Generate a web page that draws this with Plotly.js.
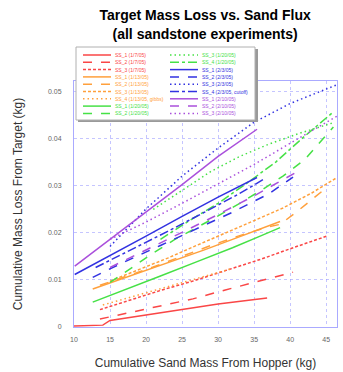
<!DOCTYPE html>
<html><head><meta charset="utf-8">
<script src="https://cdn.plot.ly/plotly-3.0.1.min.js"></script>
<style>html,body{margin:0;padding:0;background:#fff}#chart{width:343px;height:372px}</style>
</head><body><div id="chart"></div>
<script>
// ---- data ----
const seriesNames = [
  "SS_1 (1/7/05)", "SS_2 (1/7/05)", "SS_3 (1/7/05)",
  "SS_1 (1/13/05)", "SS_2 (1/13/05)", "SS_3 (1/13/05)", "SS_4 (1/13/05, gibbs)",
  "SS_1 (1/20/05)", "SS_2 (1/20/05)",
  "SS_3 (1/20/05)", "SS_4 (1/20/05)",
  "SS_1 (2/3/05)", "SS_2 (2/3/05)", "SS_3 (2/3/05)", "SS_4 (2/3/05, cutoff)",
  "SS_1 (2/10/05)", "SS_2 (2/10/05)", "SS_3 (2/10/05)"
];
const redSolidX = [10, 14, 15, 20, 25, 30, 36.8];
const redSolidY = [0, 0.0002, 0.0012, 0.0024, 0.0035, 0.0047, 0.006];
const redDashX = [13.6, 18, 22, 26.5, 31, 35.5, 40.4];
const redDashY = [0.0015, 0.003, 0.0044, 0.0058, 0.0077, 0.0095, 0.0115];
const redDotX = [13.6, 18, 22, 26.5, 31, 36, 40, 45.1];
const redDotY = [0.0035, 0.0057, 0.0076, 0.0096, 0.0118, 0.0143, 0.0165, 0.0192];
const orangeSolidX = [12.6, 16, 20, 24, 28, 32, 36, 38.6];
const orangeSolidY = [0.0079, 0.0097, 0.0118, 0.014, 0.0162, 0.0185, 0.0207, 0.0223];
const orangeDashX = [13.6, 17, 21, 25, 29, 33, 37, 38.6, 41, 45.1];
const orangeDashY = [0.0087, 0.0105, 0.0126, 0.0149, 0.0172, 0.0193, 0.0212, 0.0217, 0.0245, 0.0296];
const orangeDotX = [15, 19, 23, 27, 31, 35, 39, 43, 46.5];
const orangeDotY = [0.0096, 0.012, 0.0145, 0.0172, 0.0198, 0.0225, 0.0252, 0.0284, 0.0317];
const orangeSparseX = [14, 17, 20, 23, 26, 29, 32];
const orangeSparseY = [0.0045, 0.0058, 0.0071, 0.0084, 0.0097, 0.011, 0.0123];
const greenSolidX = [12.6, 17, 22, 27, 32, 36, 38.6];
const greenSolidY = [0.0051, 0.0078, 0.0107, 0.0137, 0.0167, 0.0193, 0.021];
const greenDashX = [15, 18, 21, 24, 27, 30, 33, 36, 39, 42, 46];
const greenDashY = [0.0093, 0.0125, 0.0156, 0.0185, 0.021, 0.0235, 0.0262, 0.029, 0.032, 0.0355, 0.0425];
const greenDotX = [21, 25, 29, 33, 37, 41, 46];
const greenDotY = [0.0249, 0.029, 0.033, 0.0362, 0.0388, 0.041, 0.0434];
const greenDashDotX = [22, 26, 30, 34, 38, 42, 46];
const greenDashDotY = [0.0185, 0.0225, 0.0262, 0.0305, 0.035, 0.0405, 0.0457];
const blueSolidX = [10.1, 15, 20, 25, 30, 35.4];
const blueSolidY = [0.011, 0.015, 0.0192, 0.0234, 0.0275, 0.0317];
const blueDashX = [12.6, 17, 22, 27, 32, 37, 40.4];
const blueDashY = [0.0104, 0.0137, 0.0172, 0.0207, 0.0243, 0.0282, 0.0318];
const blueDotX = [15, 20, 25, 30, 35, 40, 46.5];
const blueDotY = [0.017, 0.025, 0.032, 0.038, 0.0435, 0.0475, 0.0515];
const blueDashDotX = [13, 18, 23, 28, 33, 36.5];
const blueDashDotY = [0.0125, 0.0163, 0.0202, 0.0242, 0.0283, 0.0315];
const purpleSolidX = [10.1, 15, 20, 25, 30, 35.4];
const purpleSolidY = [0.0128, 0.0185, 0.0242, 0.0302, 0.0362, 0.042];
const purpleDashX = [15, 20, 25, 30, 35, 41.4];
const purpleDashY = [0.0125, 0.0162, 0.02, 0.0238, 0.0278, 0.0333];
const purpleDotX = [15, 20, 25, 30, 35, 40, 46.5];
const purpleDotY = [0.0185, 0.0222, 0.0262, 0.0303, 0.0345, 0.039, 0.0448];

const xs = [redSolidX, redDashX, redDotX, orangeSolidX, orangeDashX, orangeDotX, orangeSparseX, greenSolidX, greenDashX,
            greenDotX, greenDashDotX, blueSolidX, blueDashX, blueDotX, blueDashDotX, purpleSolidX, purpleDashX, purpleDotX];
const ys = [redSolidY, redDashY, redDotY, orangeSolidY, orangeDashY, orangeDotY, orangeSparseY, greenSolidY, greenDashY,
            greenDotY, greenDashDotY, blueSolidY, blueDashY, blueDotY, blueDashDotY, purpleSolidY, purpleDashY, purpleDotY];

// ---- styles ----
const RED = "rgb(250,70,70)", ORANGE = "rgb(255,160,60)", GREEN = "rgb(70,225,70)", BLUE = "rgb(50,50,225)", PURPLE = "rgb(170,80,220)";
const colors = [RED, RED, RED, ORANGE, ORANGE, ORANGE, ORANGE, GREEN, GREEN, GREEN, GREEN, BLUE, BLUE, BLUE, BLUE, PURPLE, PURPLE, PURPLE];
const dashes = ["solid", "dash", "3px,2px", "solid", "dash", "3px,2px", "1.5px,3px", "solid", "dash",
                "1.5px,3px", "dashdot", "solid", "dash", "1.5px,3px", "dashdot", "solid", "dash", "1.5px,3px"];

const W = 343, H = 372, M = {l: 74, r: 6, t: 81, b: 45};
const pw = W - M.l - M.r, ph = H - M.t - M.b;
const px2x = p => (p - M.l) / pw;
const py2y = p => (H - M.b - p) / ph;

const traces = xs.map((x, i) => ({
  x: x, y: ys[i], type: "scatter", mode: "lines", name: seriesNames[i], showlegend: false,
  line: {color: colors[i], width: 1.5, dash: dashes[i]}, hoverinfo: "skip"
}));

// compact two-column legend built from the series arrays
const shapes = [
  {type: "rect", xref: "paper", yref: "paper", x0: px2x(78), x1: px2x(258), y0: py2y(122), y1: py2y(49),
   fillcolor: "#9a9a9a", line: {width: 0}, layer: "above"},
  {type: "rect", xref: "paper", yref: "paper", x0: px2x(76), x1: px2x(255), y0: py2y(120), y1: py2y(47),
   fillcolor: "#ffffff", line: {color: "#b0b0b0", width: 1}, layer: "above"}
];
const annotations = [];
seriesNames.forEach((n, i) => {
  const col = i < 9 ? 0 : 1, row = i % 9;
  const yy = py2y(55 + row * 7.3);
  const lx0 = col === 0 ? 83 : 170, lx1 = lx0 + 28, tx = lx1 + 2;
  shapes.push({type: "line", xref: "paper", yref: "paper", x0: px2x(lx0), x1: px2x(lx1), y0: yy, y1: yy,
               line: {color: colors[i], width: 1.5, dash: dashes[i]}, layer: "above"});
  annotations.push({xref: "paper", yref: "paper", x: px2x(tx), y: yy, xanchor: "left", yanchor: "middle",
                    text: n, showarrow: false, font: {size: 5, color: colors[i], family: "Liberation Sans, Arial"}});
});

const gridC = "rgba(150,150,255,0.55)";
const layout = {
  width: W, height: H, margin: M, paper_bgcolor: "#fff", plot_bgcolor: "#fff",
  font: {family: "Liberation Sans, Arial, sans-serif"},
  title: {text: "Target Mass Loss vs. Sand Flux<br>(all sandstone experiments)", x: 0.598, xanchor: "center",
          xref: "container", yref: "container", y: 0.945, yanchor: "top",
          font: {size: 14, color: "#000", weight: "bold"}},
  xaxis: {range: [10, 46.5], dtick: 5, tick0: 10, showgrid: true, gridcolor: gridC, griddash: "dot",
          showline: true, linecolor: "rgb(170,170,255)", mirror: true, zeroline: false, ticks: "",
          tickfont: {size: 7, color: "#666"}, ticklabelstandoff: 6,
          title: {text: "Cumulative Sand Mass From Hopper (kg)", font: {size: 12, color: "#333"}, standoff: 16}},
  yaxis: {range: [-0.0002, 0.0523], dtick: 0.01, tick0: 0, showgrid: true, gridcolor: gridC, griddash: "dot",
          showline: true, linecolor: "rgb(170,170,255)", mirror: true, zeroline: false, ticks: "",
          tickfont: {size: 7, color: "#666"}, ticklabelstandoff: 10,
          title: {text: "Cumulative Mass Loss From Target (kg)", font: {size: 12, color: "#333"}, standoff: 22}},
  shapes: shapes, annotations: annotations, showlegend: false
};
Plotly.newPlot("chart", traces, layout, {staticPlot: true, displayModeBar: false});
</script></body></html>
